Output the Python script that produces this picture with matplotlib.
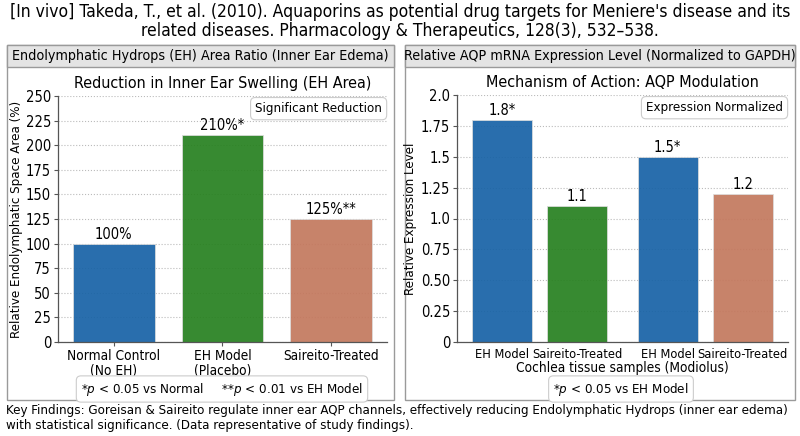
import matplotlib
matplotlib.use("Agg")
import matplotlib.pyplot as plt
from matplotlib.patches import Rectangle

plt.rcParams["font.family"] = ["DejaVu Sans"]
plt.rcParams["font.stretch"] = "condensed"

# Left panel data
eh_groups = ["Normal Control\n(No EH)", "EH Model\n(Placebo)", "Saireito-Treated"]
eh_area = [100, 210, 125]
eh_labels = ["100%", "210%*", "125%**"]
eh_ticks = [0, 25, 50, 75, 100, 125, 150, 175, 200, 225, 250]

# Right panel data
aqp_groups = ["EH Model", "Saireito-Treated", "EH Model", "Saireito-Treated"]
aqp_pos = [0, 1, 2.2, 3.2]
aqp_level = [1.8, 1.1, 1.5, 1.2]
aqp_labels = ["1.8*", "1.1", "1.5*", "1.2"]
aqp_ticks = [0, 0.25, 0.5, 0.75, 1.0, 1.25, 1.5, 1.75, 2.0]
aqp_ticklabels = ["0", "0.25", "0.50", "0.75", "1.0", "1.25", "1.5", "1.75", "2.0"]

BLUE = "#1762a6"
GREEN = "#26801f"
SALMON = "#c3785d"
eh_colors = [BLUE, GREEN, SALMON]
aqp_colors = [BLUE, GREEN, BLUE, SALMON]

W, H = 800, 436
fig = plt.figure(figsize=(8, 4.36), dpi=100)


def fx(px):
    return px / W


def fy(py):
    return 1 - py / H


fig.text(0.5, fy(3), "[In vivo] Takeda, T., et al. (2010). Aquaporins as potential drug targets for Meniere's disease and its\nrelated diseases. Pharmacology & Therapeutics, 128(3), 532\u2013538.",
         ha="center", va="top", fontsize=12.5, linespacing=1.05)

# panel frames and header bands
for x0, x1, head in [(7, 394, "Endolymphatic Hydrops (EH) Area Ratio (Inner Ear Edema)"),
                     (405, 795, "Relative AQP mRNA Expression Level (Normalized to GAPDH)")]:
    fig.add_artist(Rectangle((fx(x0), fy(400)), fx(x1 - x0), (400 - 45) / H,
                             transform=fig.transFigure, facecolor="white",
                             edgecolor="#9a9a9a", lw=1.0, zorder=0))
    fig.add_artist(Rectangle((fx(x0), fy(67)), fx(x1 - x0), 22 / H,
                             transform=fig.transFigure, facecolor="#e4e4e4",
                             edgecolor="#9a9a9a", lw=1.0, zorder=0))
    fig.text(fx((x0 + x1) / 2), fy(56), head, ha="center", va="center", fontsize=10.3)

ax1 = fig.add_axes([fx(58), fy(342), fx(387 - 58), (342 - 96) / H])
ax2 = fig.add_axes([fx(457), fy(342), fx(788 - 457), (342 - 95) / H])

for ax in (ax1, ax2):
    ax.set_facecolor("none")
    for s in ("top", "right"):
        ax.spines[s].set_visible(False)
    for s in ("left", "bottom"):
        ax.spines[s].set_color("#555555")
        ax.spines[s].set_linewidth(0.9)
    ax.tick_params(labelsize=10.5, length=3, color="#555555", pad=2)
    ax.yaxis.grid(True, linestyle=":", color="#bbbbbb", linewidth=0.8)
    ax.set_axisbelow(True)

bars1 = ax1.bar(range(3), eh_area, width=0.75, color=eh_colors, alpha=0.92,
                edgecolor="#dddddd", linewidth=0.6)
ax1.set_ylim(0, 250)
ax1.set_yticks(eh_ticks)
ax1.set_xticks(range(3))
ax1.set_xticklabels(eh_groups, fontsize=9.8, linespacing=1.05)
ax1.set_ylabel("Relative Endolymphatic Space Area (%)", fontsize=9.5, labelpad=2)
ax1.set_title("Reduction in Inner Ear Swelling (EH Area)", fontsize=11.5, pad=6)
for b, lab in zip(bars1, eh_labels):
    ax1.text(b.get_x() + b.get_width() / 2, b.get_height() + 2, lab,
             ha="center", va="bottom", fontsize=10.5)
ax1.text(0.985, 0.975, "Significant Reduction", transform=ax1.transAxes,
         ha="right", va="top", fontsize=9.5,
         bbox=dict(boxstyle="round,pad=0.35", fc="white", ec="#cccccc", lw=0.8))

bars2 = ax2.bar(aqp_pos, aqp_level, width=0.8, color=aqp_colors, alpha=0.92,
                edgecolor="#dddddd", linewidth=0.6)
ax2.set_ylim(0, 2.0)
ax2.set_yticks(aqp_ticks)
ax2.set_yticklabels(aqp_ticklabels)
ax2.set_xticks(aqp_pos)
ax2.set_xticklabels(aqp_groups, fontsize=9.2)
ax2.tick_params(axis="x", length=0, pad=4)
ax2.set_xlabel("Cochlea tissue samples (Modiolus)", fontsize=9.8, labelpad=0)
ax2.set_ylabel("Relative Expression Level", fontsize=9.5, labelpad=3)
ax2.set_title("Mechanism of Action: AQP Modulation", fontsize=11.5, pad=6)
for b, lab in zip(bars2, aqp_labels):
    ax2.text(b.get_x() + b.get_width() / 2, b.get_height() + 0.015, lab,
             ha="center", va="bottom", fontsize=10.5)
ax2.text(0.985, 0.975, "Expression Normalized", transform=ax2.transAxes,
         ha="right", va="top", fontsize=9.5,
         bbox=dict(boxstyle="round,pad=0.35", fc="white", ec="#cccccc", lw=0.8))

box = dict(boxstyle="round,pad=0.35", fc="white", ec="#cccccc", lw=0.8)
fig.text(fx(222), fy(389), r"*$p$ < 0.05 vs Normal     **$p$ < 0.01 vs EH Model",
         ha="center", va="center", fontsize=9.5, bbox=box)
fig.text(fx(621), fy(389), r"*$p$ < 0.05 vs EH Model",
         ha="center", va="center", fontsize=9.5, bbox=box)

fig.text(fx(6), fy(404), "Key Findings: Goreisan & Saireito regulate inner ear AQP channels, effectively reducing Endolymphatic Hydrops (inner ear edema)\nwith statistical significance. (Data representative of study findings).",
         ha="left", va="top", fontsize=9.5, linespacing=1.15)

fig.savefig("out.png", dpi=100)
